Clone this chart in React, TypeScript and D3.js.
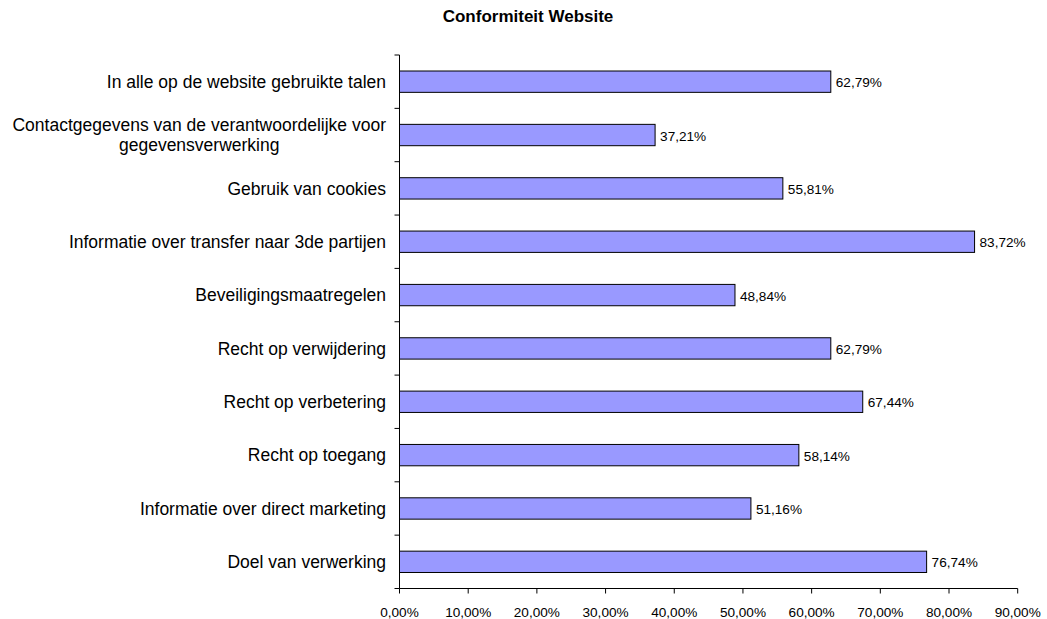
import React from "react";
import * as d3 from "d3";

const categories: string[][] = [
  ["In alle op de website gebruikte talen"],
  ["Contactgegevens van de verantwoordelijke voor", "gegevensverwerking"],
  ["Gebruik van cookies"],
  ["Informatie over transfer naar 3de partijen"],
  ["Beveiligingsmaatregelen"],
  ["Recht op verwijdering"],
  ["Recht op verbetering"],
  ["Recht op toegang"],
  ["Informatie over direct marketing"],
  ["Doel van verwerking"],
];
const values: number[] = [62.79, 37.21, 55.81, 83.72, 48.84, 62.79, 67.44, 58.14, 51.16, 76.74];
const xTicks: number[] = [0, 10, 20, 30, 40, 50, 60, 70, 80, 90];
const title = "Conformiteit Website";

const fmt = (v: number) => v.toFixed(2).replace(".", ",") + "%";

const font = "Arial, 'Liberation Sans', sans-serif";
const catSize = 17.5;
const numSize = 13.6;

function measure(s: string, size: number): number {
  if (typeof document === "undefined") return s.length * size * 0.5;
  const c = document.createElement("canvas").getContext("2d");
  if (!c) return s.length * size * 0.5;
  c.font = `${size}px Arial, 'Liberation Sans', sans-serif`;
  return c.measureText(s).width;
}

export default function App() {
  const W = 1047, H = 619;
  const left = 399.5, right = 1017.7, top = 55, bottom = 588.5;
  const x = d3.scaleLinear().domain([0, 90]).range([left, right]);
  const idx = categories.map((_, i) => String(i));
  const y = d3.scaleBand().domain(idx).range([top, bottom]).paddingInner(0.6).paddingOuter(0.3);
  const band = (bottom - top) / categories.length;
  const labelRight = 386;
  return (
    <svg width={W} height={H} style={{ position: "absolute", left: 0, top: 0, background: "#fff" }}>
      <text x={528} y={22} textAnchor="middle" fontFamily={font} fontWeight="bold" fontSize={17} fill="#000">{title}</text>
      {values.map((v, i) => (
        <g key={i}>
          <rect x={x(0)} y={y(String(i))!} width={x(v) - x(0)} height={y.bandwidth()} fill="#9999FF" stroke="#000" strokeWidth={1} />
          <text x={x(v) + 5} y={y(String(i))! + y.bandwidth() / 2 + 5.5} fontFamily={font} fontSize={numSize} fill="#000">{fmt(v)}</text>
        </g>
      ))}
      {categories.map((lines, i) => {
        const cy = top + band * (i + 0.5);
        const lh = 20.5;
        const y0 = cy - ((lines.length - 1) * lh) / 2 + 6.2;
        if (lines.length === 1) {
          return (
            <text key={i} x={labelRight} y={y0} textAnchor="end" fontFamily={font} fontSize={catSize} fill="#000">{lines[0]}</text>
          );
        }
        const maxW = Math.max(...lines.map((l) => measure(l, catSize)));
        const cx = labelRight - maxW / 2;
        return (
          <text key={i} textAnchor="middle" fontFamily={font} fontSize={catSize} fill="#000">
            {lines.map((l, j) => (
              <tspan key={j} x={cx} y={y0 + j * lh}>{l}</tspan>
            ))}
          </text>
        );
      })}
      <line x1={left} x2={left} y1={top} y2={bottom} stroke="#000" />
      {d3.range(categories.length + 1).map((k) => (
        <line key={k} x1={left - 5} x2={left} y1={top + band * k} y2={top + band * k} stroke="#000" />
      ))}
      <line x1={left} x2={right} y1={bottom} y2={bottom} stroke="#000" />
      {xTicks.map((t) => (
        <g key={t}>
          <line x1={x(t)} x2={x(t)} y1={bottom} y2={bottom + 5} stroke="#000" />
          <text x={x(t)} y={617} textAnchor="middle" fontFamily={font} fontSize={numSize} fill="#000">{fmt(t)}</text>
        </g>
      ))}
    </svg>
  );
}
